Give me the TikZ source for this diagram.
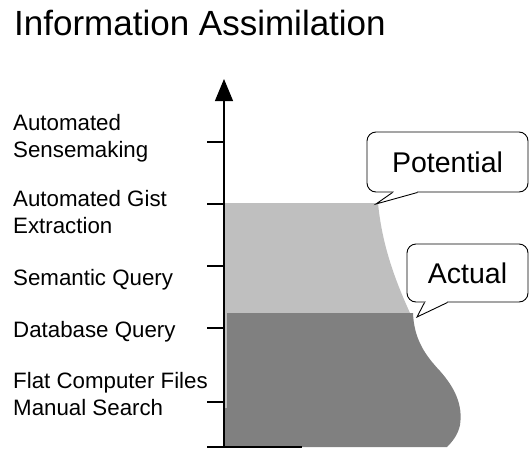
\documentclass[tikz,border=0pt]{standalone}
\usepackage{fontspec}
\setmainfont{Liberation Sans}
\usetikzlibrary{arrows.meta,calc}

\tikzset{
  lvl/.style={anchor=base west, align=left, inner sep=0pt, font=\fontsize{22.3}{26.5}\selectfont},
  bubble/.style={draw, fill=white, rounded corners=9pt, line width=0.9pt, inner sep=0pt, font=\fontsize{28.5}{30}\selectfont},
  axisline/.style={line width=1.2pt},
}

\begin{document}
\begin{tikzpicture}[x=1pt,y=-1pt]
\useasboundingbox (0,0) rectangle (530,450);

\node (title) [anchor=base west, inner sep=0pt, font=\fontsize{35}{38}\selectfont] at (14,35) {Information Assimilation};

% potential and actual areas
\fill[gray!50] (224,203) -- (378,203) .. controls (382,245) and (395,280) .. (410,313) -- (410,410) -- (224,410) -- cycle;
\fill[gray] (227,313) -- (413,313) .. controls (414,340) and (426,356) .. (440,371)
  .. controls (455,388) and (463,405) .. (460,425) .. controls (458,435) and (452,442) .. (447,447)
  -- (224,447) -- (224,408) -- (227,408) -- cycle;

% axis
\coordinate (origin) at (224,447);
\coordinate (top) at (224,79);
\coordinate (xleft) at (207,447);
\coordinate (xright) at (302,447);
\draw[axisline, -{Triangle[length=22pt,width=18pt]}] (origin) -- (top);
\draw[axisline] (xleft) -- (xright);
\foreach \y in {142,204,266,328,402}
  \draw[axisline] (207,\y) -- (224,\y);

% levels (base = last line)
\node (sense) [lvl] at (13,157) {Automated\\Sensemaking};
\node (gist) [lvl] at (13,233) {Automated Gist\\Extraction};
\node (semq) [lvl] at (13,285) {Semantic Query};
\node (dbq) [lvl] at (13,337) {Database Query};
\node (flat) [lvl] at (13,415) {Flat Computer Files\\Manual Search};

% callouts
\node (pot) [bubble, minimum width=161pt, minimum height=60pt] at (447.5,162) {Potential};
\coordinate (pottip) at (376,204);
\draw[white, line width=2pt] ($(pot.south west)+(27,0)$) -- ($(pot.south west)+(50,0)$);
\draw[fill=white, line width=0.9pt] ($(pot.south west)+(26,0)$) -- (pottip) -- ($(pot.south west)+(51,0)$);

\node (act) [bubble, minimum width=121pt, minimum height=58pt] at (467.5,273) {Actual};
\coordinate (acttip) at (417,317);
\draw[white, line width=2pt] ($(act.south west)+(19,0)$) -- ($(act.south west)+(40,0)$);
\draw[fill=white, line width=0.9pt] ($(act.south west)+(18,0)$) -- (acttip) -- ($(act.south west)+(41,0)$);

\end{tikzpicture}
\end{document}
